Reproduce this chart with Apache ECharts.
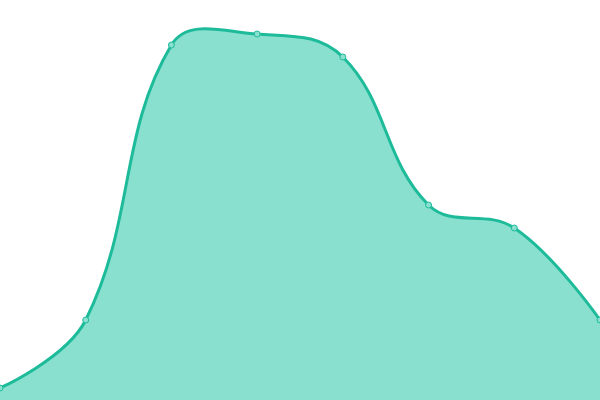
<!doctype html>
<html>
<head>
<meta charset="utf-8">
<title>area</title>
<script src="https://cdn.jsdelivr.net/npm/echarts@6/dist/echarts.min.js"></script>
<style>
  html, body { margin: 0; padding: 0; background: #fff; }
  #main { width: 600px; height: 400px; }
</style>
</head>
<body>
<div id="main"></div>
<script>
var categories = ['A', 'B', 'C', 'D', 'E', 'F', 'G', 'H'];
var values = [12, 80, 355, 366, 343, 195, 172, 80];

var tension = 0.4; // 曲线平滑度，不做越界裁剪

// 算贝塞尔控制点（前后点连线方向，按两侧距离分配）
function curvePath(pts) {
  var cps = [pts[0]];
  for (var i = 1; i < pts.length - 1; i++) {
    var p = pts[i], a = pts[i - 1], b = pts[i + 1];
    var vx = (b[0] - a[0]) * tension, vy = (b[1] - a[1]) * tension;
    var d0 = Math.hypot(p[0] - a[0], p[1] - a[1]);
    var d1 = Math.hypot(p[0] - b[0], p[1] - b[1]);
    var s = d0 + d1;
    d0 /= s; d1 /= s;
    cps.push([p[0] - vx * d0, p[1] - vy * d0]);
    cps.push([p[0] + vx * d1, p[1] + vy * d1]);
  }
  cps.push(pts[pts.length - 1]);
  var d = 'M' + pts[0][0] + ' ' + pts[0][1];
  for (var j = 0; j < pts.length - 1; j++) {
    var c0 = cps[2 * j], c1 = cps[2 * j + 1], q = pts[j + 1];
    d += ' C' + c0[0] + ' ' + c0[1] + ' ' + c1[0] + ' ' + c1[1] + ' ' + q[0] + ' ' + q[1];
  }
  return d;
}

var chart = echarts.init(document.getElementById('main'));
chart.setOption({
  animation: false,
  grid: { left: 0, right: 0, top: 0, bottom: 0 },
  xAxis: { type: 'category', data: categories, boundaryGap: false, show: false },
  yAxis: { type: 'value', min: 0, max: 400, show: false },
  series: [{
    type: 'custom',
    data: values.map(function (v, i) { return [i, v]; }),
    encode: { x: 0, y: 1 },
    clip: true,
    renderItem: function (params, api) {
      if (params.dataIndex !== 0) return;
      var pts = values.map(function (v, i) { return api.coord([i, v]); });
      var last = pts.length - 1;
      var base0 = api.coord([0, 0]), base1 = api.coord([last, 0]);
      var line = curvePath(pts);
      var area = line + ' L' + base1[0] + ' ' + base1[1] + ' L' + base0[0] + ' ' + base0[1] + ' Z';
      return {
        type: 'group',
        children: [
          { type: 'path', shape: { pathData: area }, style: { fill: '#89e0cf', stroke: null } },
          { type: 'path', shape: { pathData: line }, style: { fill: null, stroke: '#1dbb9a', lineWidth: 3 } }
        ]
      };
    }
  }, {
    type: 'line',
    data: values,
    symbol: 'circle',
    symbolSize: 6,
    z: 5,
    itemStyle: { color: '#8ae0cf', borderColor: '#1dbb9a', borderWidth: 1 },
    lineStyle: { width: 0, opacity: 0 }
  }]
});
</script>
</body>
</html>
